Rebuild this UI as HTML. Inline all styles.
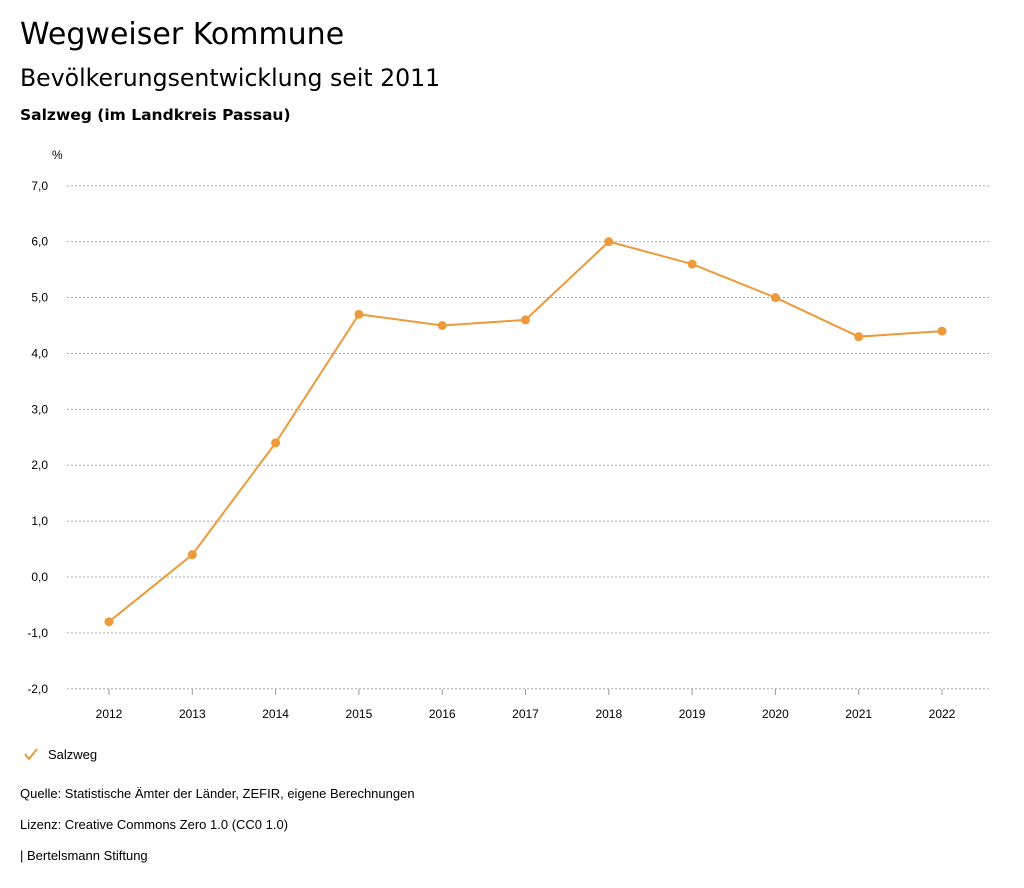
<!DOCTYPE html>
<html><head><meta charset="utf-8"><style>
body{margin:0;width:1024px;height:888px;background:#fff;font-family:"Liberation Sans","DejaVu Sans",sans-serif;color:#000;position:relative;overflow:hidden}
.t{position:absolute;left:20px;white-space:nowrap}
</style></head><body>
<div class="t" style="top:17px;font-size:30px;font-family:'DejaVu Sans',sans-serif">Wegweiser Kommune</div>
<div class="t" style="top:64px;font-size:23.6px;font-family:'DejaVu Sans',sans-serif">Bevölkerungsentwicklung seit 2011</div>
<div class="t" style="top:106px;font-size:15.5px;font-weight:bold;font-family:'DejaVu Sans',sans-serif">Salzweg (im Landkreis Passau)</div>
<svg id="chart" width="1024" height="888" style="position:absolute;left:0;top:0" font-family="Liberation Sans, sans-serif"></svg>
<div class="t" style="top:786px;font-size:13px">Quelle: Statistische Ämter der Länder, ZEFIR, eigene Berechnungen</div>
<div class="t" style="top:817px;font-size:13px">Lizenz: Creative Commons Zero 1.0 (CC0 1.0)</div>
<div class="t" style="top:848px;font-size:13px">| Bertelsmann Stiftung</div>
<script>
const years=["2012","2013","2014","2015","2016","2017","2018","2019","2020","2021","2022"];
const values=[-0.8,0.4,2.4,4.7,4.5,4.6,6.0,5.6,5.0,4.3,4.4];
const yTicks=[7,6,5,4,3,2,1,0,-1,-2];
const svg=document.getElementById('chart');
const NS='http://www.w3.org/2000/svg';
const y0=577, k=(689-186)/9;
const yS=v=>y0-v*k;
const xS=i=>109+i*(942-109)/(years.length-1);
function mk(t,a){const e=document.createElementNS(NS,t);for(const n in a)e.setAttribute(n,a[n]);svg.appendChild(e);return e;}
let u=mk('text',{x:52,y:159,'font-size':12});u.textContent='%';


yTicks.forEach(v=>{
 const l=mk('line',{x1:67,x2:990,y1:yS(v),y2:yS(v),stroke:'#aaa','stroke-dasharray':'2,2'});
 
 
 const t=mk('text',{x:48,y:yS(v)+4,'font-size':12,'text-anchor':'end'});
 t.textContent=v.toFixed(1).replace('.',',');
 
 
});
years.forEach((y,i)=>{
 const tk=mk('line',{x1:xS(i),x2:xS(i),y1:689,y2:695,stroke:'#999'});
 
 
 const t=mk('text',{x:xS(i),y:718,'font-size':12,'text-anchor':'middle'});
 t.textContent=y;
 
 
});
const p=mk('polyline',{points:values.map((v,i)=>xS(i)+','+yS(v)).join(' '),fill:'none',stroke:'#ec9a3a','stroke-width':2});


values.forEach((v,i)=>{
 const c=mk('circle',{cx:xS(i),cy:yS(v),r:4.5,fill:'#ec9a3a'});
 
 
});
const lg=mk('polyline',{points:'25,754 29,759 37,749',fill:'none',stroke:'#ec9a3a','stroke-width':2});


const lt=mk('text',{x:48,y:759,'font-size':13});lt.textContent='Salzweg';


</script>
</body></html>
